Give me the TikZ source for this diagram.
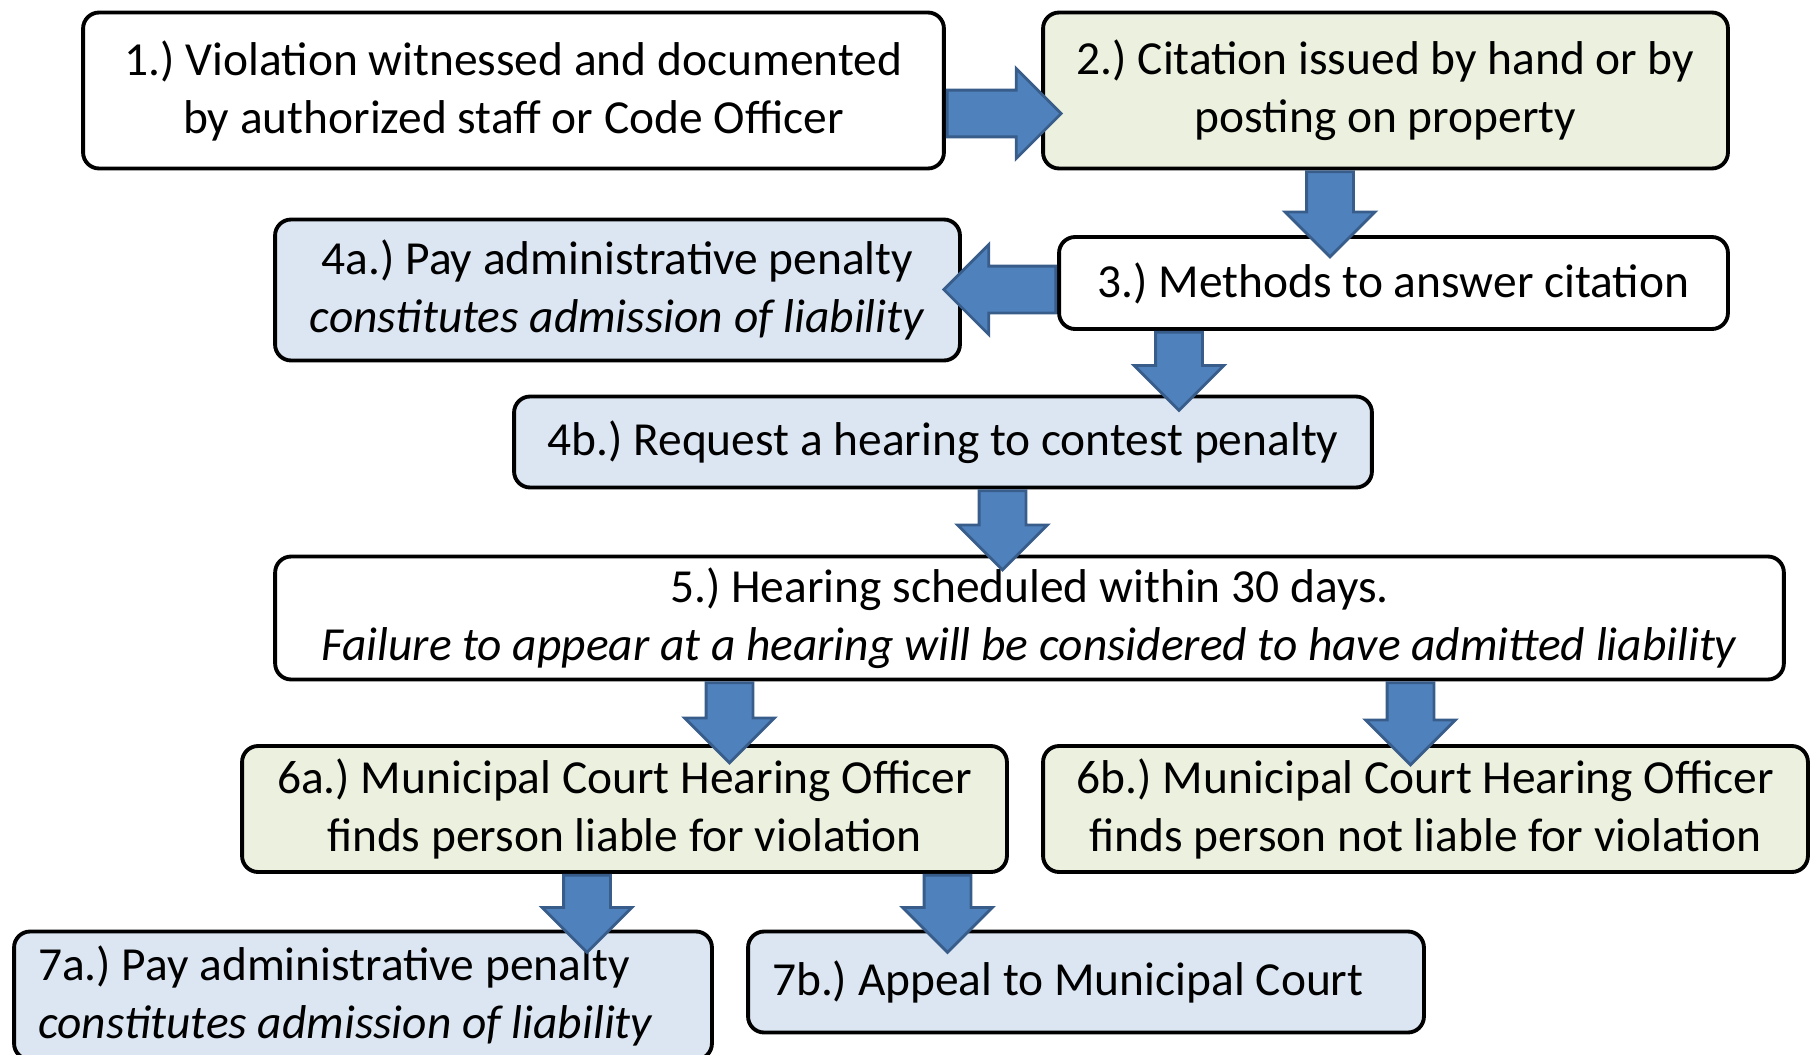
\documentclass[tikz,border=0pt]{standalone}
\usepackage{fontspec}
\setmainfont{Carlito}
\usepackage{tikz}
\usetikzlibrary{shapes.arrows,positioning,calc}

\definecolor{boxgreen}{HTML}{EBF1DE}
\definecolor{boxblue}{HTML}{DCE6F2}
\definecolor{arrowfill}{HTML}{4F81BD}
\definecolor{arrowline}{HTML}{385D8A}

\begin{document}
\begin{tikzpicture}[
    x=0.02cm, y=-0.02cm,
    stepbox/.style={rectangle, draw, line width=2.2pt, rounded corners=0.32cm, fill=white, align=center, inner sep=0pt, font=\fontsize{27}{33}\selectfont\frenchspacing},
    greenbox/.style={stepbox, fill=boxgreen},
    bluebox/.style={stepbox, fill=boxblue},
    leftbox/.style={bluebox, align=flush left, inner xsep=0.48cm},
    blockarrow/.style={single arrow, draw=arrowline, fill=arrowfill, line width=1.6pt, inner xsep=0pt, inner ysep=0.44cm, single arrow head extend=0.43cm, anchor=tail},
]
    \useasboundingbox (0,0) rectangle (1813,1055);

    % boxes
    \node[stepbox, minimum width=17.22cm, minimum height=3.12cm] (viol) at (513.5,90.5) {1.) Violation witnessed and documented\\by authorized staff or Code Officer};
    \node[greenbox, minimum width=13.7cm, minimum height=3.12cm] (cite) at (1385.5,90.5) {2.) Citation issued by hand or by\\posting on property};
    \node[stepbox, minimum width=13.38cm, minimum height=1.84cm] (methods) at (1393.5,283) {3.) Methods to answer citation};
    \node[bluebox, minimum width=13.7cm, minimum height=2.82cm] (pay) at (617.5,290) {4a.) Pay administrative penalty\\\textit{constitutes admission of liability}};
    \node[bluebox, minimum width=17.16cm, minimum height=1.82cm] (hearreq) at (943,442) {4b.) Request a hearing to contest penalty};
    \node[stepbox, minimum width=30.18cm, minimum height=2.46cm] (sched) at (1029.5,618) {5.) Hearing scheduled within 30 days.\\\textit{Failure to appear at a hearing will be considered to have admitted liability}};
    \node[greenbox, minimum width=15.3cm, minimum height=2.52cm] (liable) at (624.5,809) {6a.) Municipal Court Hearing Officer\\finds person liable for violation};
    \node[greenbox, minimum width=15.3cm, minimum height=2.52cm] (notliable) at (1425.5,809) {6b.) Municipal Court Hearing Officer\\finds person not liable for violation};
    \node[leftbox, text width=13.0cm, minimum height=2.56cm] (paycourt) at (363,995.5) {7a.) Pay administrative penalty\\\textit{constitutes admission of liability}};
    \node[leftbox, text width=12.56cm, minimum height=2.02cm] (appeal) at (1086,982) {7b.) Appeal to Municipal Court};

    % block arrows
    \node[blockarrow, minimum height=2.28cm] (a12) at (viol.east |- 0,113.5) {};
    \node[blockarrow, minimum height=1.7cm, rotate=-90] (a23) at (1330,0 |- cite.south) {};
    \node[blockarrow, minimum height=2.24cm, rotate=180] (a34a) at (methods.west |- 0,289.5) {};
    \node[blockarrow, minimum height=1.56cm, rotate=-90] (a34b) at (1179,0 |- methods.south) {};
    \node[blockarrow, minimum height=1.58cm, rotate=-90] (a4b5) at (1002.5,0 |- hearreq.south) {};
    \node[blockarrow, minimum height=1.6cm, rotate=-90] (a56a) at (729.5,0 |- sched.south) {};
    \node[blockarrow, minimum height=1.64cm, rotate=-90] (a56b) at (1410.5,0 |- sched.south) {};
    \node[blockarrow, minimum height=1.54cm, rotate=-90] (a6a7a) at (587,0 |- liable.south) {};
    \node[blockarrow, minimum height=1.54cm, rotate=-90] (a6a7b) at (947.5,0 |- liable.south) {};
\end{tikzpicture}
\end{document}
